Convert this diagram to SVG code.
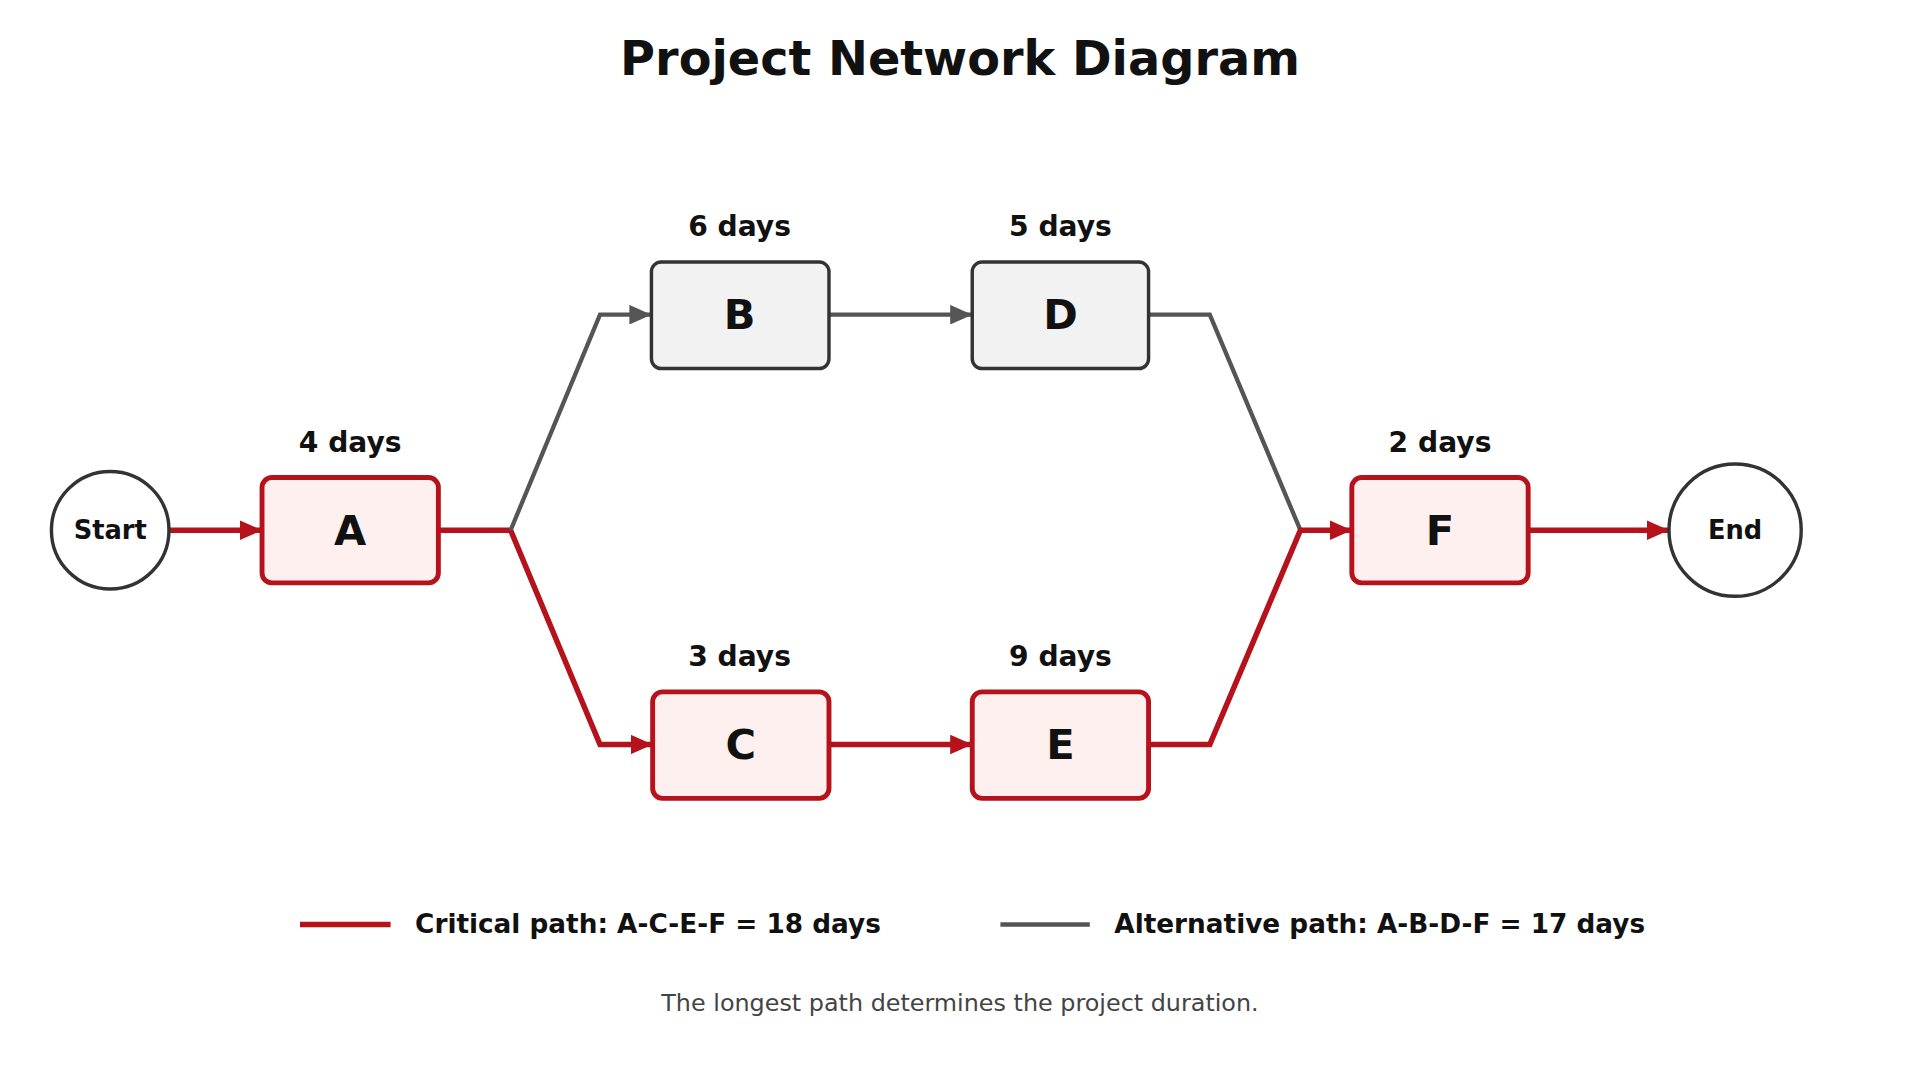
<svg xmlns="http://www.w3.org/2000/svg" width="1920" height="1080" viewBox="0 0 1920 1080">
<style>
text{font-family:"DejaVu Sans","Liberation Sans",sans-serif;fill:#111;text-anchor:middle}
.t{font-weight:bold}
.crit{fill:#fff0f0;stroke:#b5121b;stroke-width:4}
.alt{fill:#f2f2f2;stroke:#333;stroke-width:2.8}
.circ{fill:#fff;stroke:#333;stroke-width:2.8}
.lr{fill:none;stroke:#b5121b;stroke-width:4.5}
.lg{fill:none;stroke:#555;stroke-width:3.5}
.big{font-size:34px;font-weight:bold}
.dur{font-size:23px;font-weight:bold}
</style>
<defs>
<marker id="ar" markerUnits="userSpaceOnUse" markerWidth="20" markerHeight="16" refX="18" refY="8" orient="auto"><path d="M0,0 L18,8 L0,16Z" fill="#b5121b"/></marker>
<marker id="ag" markerUnits="userSpaceOnUse" markerWidth="20" markerHeight="16" refX="18" refY="8" orient="auto"><path d="M0,0 L18,8 L0,16Z" fill="#555"/></marker>
</defs>
<rect width="1920" height="1080" fill="#fff"/>
<g transform="scale(1.22449)">
<text class="t" x="784" y="61" font-size="39">Project Network Diagram</text>
<g id="connectors">
<path class="lr" d="M138,433 H214" marker-end="url(#ar)"/>
<path class="lr" d="M358,433 H417 L490,608 H533" marker-end="url(#ar)"/>
<path class="lg" d="M417,433 L490,257 H532" marker-end="url(#ag)"/>
<path class="lg" d="M677,257 H794" marker-end="url(#ag)"/>
<path class="lg" d="M938,257 H988 L1062,433"/>
<path class="lr" d="M677,608 H794" marker-end="url(#ar)"/>
<path class="lr" d="M938,608 H988 L1062,433 H1104" marker-end="url(#ar)"/>
<path class="lr" d="M1248,433 H1363" marker-end="url(#ar)"/>
</g>
<g id="start"><circle class="circ" cx="90" cy="433" r="48"/><text class="t" x="90" y="440" font-size="21">Start</text></g>
<g id="A"><rect class="crit" x="214" y="390" width="144" height="86" rx="8"/><text class="big" x="286" y="445">A</text><text class="dur" x="286" y="369">4 days</text></g>
<g id="B"><rect class="alt" x="532" y="214" width="145" height="87" rx="8"/><text class="big" x="604" y="269">B</text><text class="dur" x="604" y="193">6 days</text></g>
<g id="D"><rect class="alt" x="794" y="214" width="144" height="87" rx="8"/><text class="big" x="866" y="269">D</text><text class="dur" x="866" y="193">5 days</text></g>
<g id="C"><rect class="crit" x="533" y="565" width="144" height="87" rx="8"/><text class="big" x="605" y="620">C</text><text class="dur" x="604" y="544">3 days</text></g>
<g id="E"><rect class="crit" x="794" y="565" width="144" height="87" rx="8"/><text class="big" x="866" y="620">E</text><text class="dur" x="866" y="544">9 days</text></g>
<g id="F"><rect class="crit" x="1104" y="390" width="144" height="86" rx="8"/><text class="big" x="1176" y="445">F</text><text class="dur" x="1176" y="369">2 days</text></g>
<g id="end"><circle class="circ" cx="1417" cy="433" r="54"/><text class="t" x="1417" y="440" font-size="21">End</text></g>
<g id="legend">
<line class="lr" x1="245" y1="755" x2="319" y2="755"/>
<text class="t" x="339" y="762" font-size="21.5" style="text-anchor:start">Critical path: A-C-E-F = 18 days</text>
<line class="lg" x1="817" y1="755" x2="890" y2="755"/>
<text class="t" x="910" y="762" font-size="21.5" style="text-anchor:start">Alternative path: A-B-D-F = 17 days</text>
</g>
<text x="784" y="826" font-size="19.5" style="fill:#444">The longest path determines the project duration.</text>
</g>
</svg>
